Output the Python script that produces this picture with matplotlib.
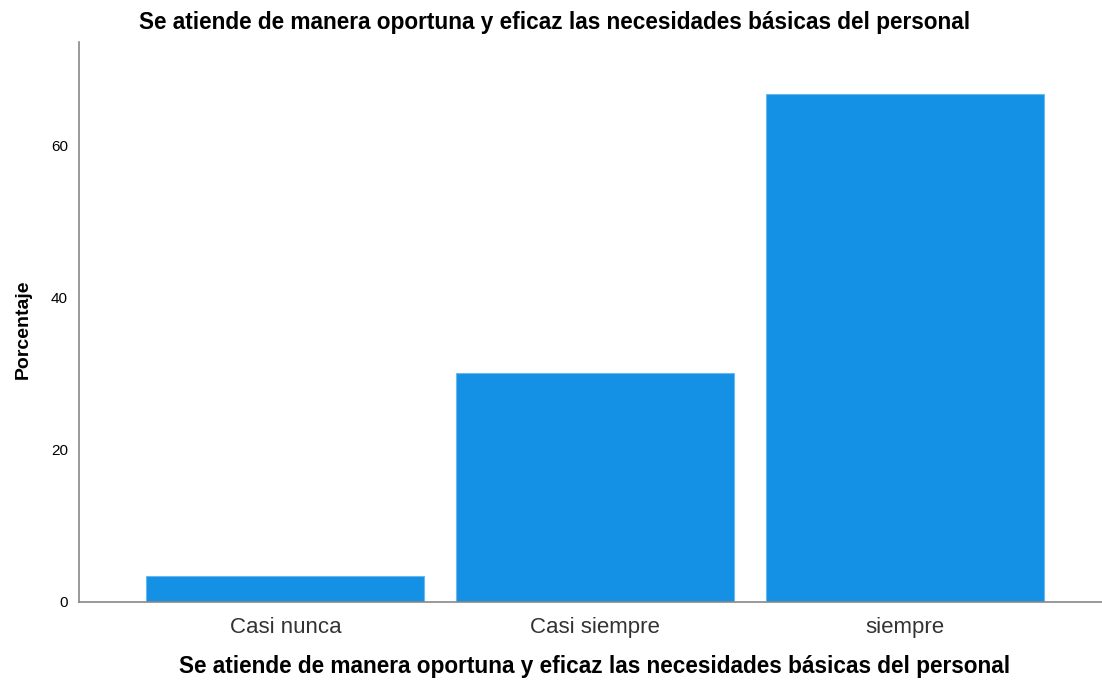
"""Bar chart: necesidades básicas del personal."""

import matplotlib.pyplot as plt

categories = ["Casi nunca", "Casi siempre", "siempre"]
values = [3.3, 30.0, 66.7]
yticks = [0, 20, 40, 60]

titulo = "Se atiende de manera oportuna y eficaz las necesidades básicas del personal"

plt.rcParams["font.family"] = ["Liberation Sans", "DejaVu Sans"]

fig = plt.figure(figsize=(11.02, 6.84), dpi=100)
ax = fig.add_axes([79 / 1102, (684 - 601.5) / 684, 1 - 79 / 1102, (601.5 - 42) / 684])

x = list(range(len(categories)))
ax.bar(x, values, width=0.897, color="#1490e4", edgecolor="#6ab8f0", linewidth=0.8)

ax.set_xlim(-0.666, 2.636)
ax.set_ylim(0, 73.6)
ax.set_xticks(x)
ax.set_xticklabels(categories, fontsize=16, color="#333333")
ax.set_yticks(yticks)
ax.set_yticklabels([str(t) for t in yticks], fontsize=11)
ax.tick_params(axis="y", length=0, pad=8)
ax.tick_params(axis="x", length=0, pad=11)

for s in ["top", "right"]:
    ax.spines[s].set_visible(False)
for s in ["left", "bottom"]:
    ax.spines[s].set_color("#888888")
    ax.spines[s].set_linewidth(1.2)

fig.text(555 / 1102, 1 - 22 / 684, titulo, ha="center", va="center",
         fontsize=16.3, fontweight="bold")
fig.text(595 / 1102, 1 - 667 / 684, titulo, ha="center", va="center",
         fontsize=16.3, fontweight="bold")
fig.text(23 / 1102, 1 - 329 / 684, "Porcentaje", ha="center", va="center",
         rotation=90, fontsize=14, fontweight="bold")

fig.savefig("out.png", dpi=100)
